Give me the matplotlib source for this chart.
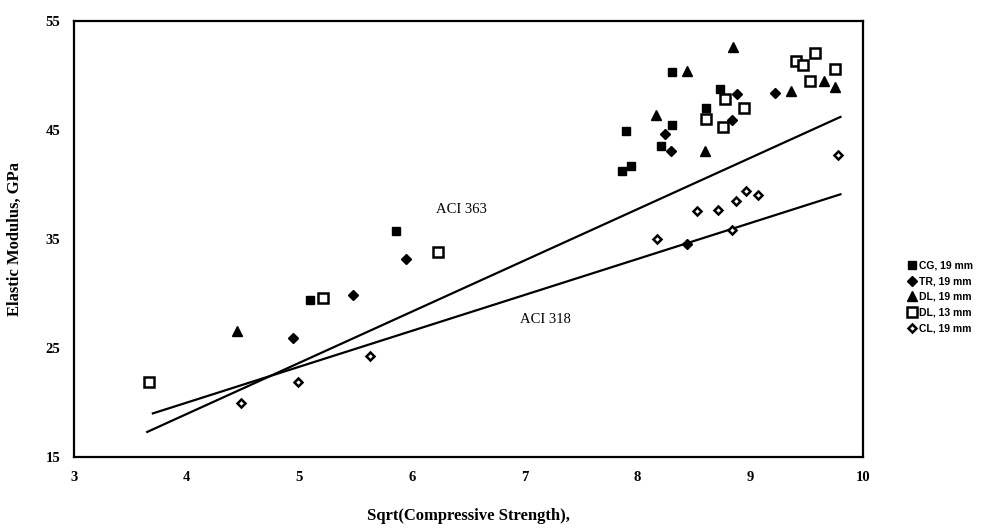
import matplotlib.pyplot as plt

# x = sqrt(f'c), y = elastic modulus (GPa)
cg_x = [5.09, 5.86, 7.86, 7.94, 7.90, 8.21, 8.31, 8.31, 8.61, 8.73]
cg_y = [29.4, 35.7, 41.2, 41.7, 44.9, 43.5, 45.5, 50.3, 47.0, 48.8]

tr_x = [4.94, 5.48, 5.95, 8.44, 8.24, 8.30, 8.84, 8.88, 9.22]
tr_y = [25.9, 29.9, 33.2, 34.5, 44.6, 43.1, 45.9, 48.3, 48.4]

dl19_x = [4.45, 8.16, 8.44, 8.60, 8.85, 9.36, 9.65, 9.75]
dl19_y = [26.6, 46.4, 50.4, 43.1, 52.6, 48.6, 49.5, 48.9]

dl13_x = [3.67, 5.21, 6.23, 8.61, 8.76, 8.78, 8.94, 9.41, 9.47, 9.53, 9.57, 9.75]
dl13_y = [21.9, 29.6, 33.8, 46.0, 45.3, 47.8, 47.0, 51.3, 51.0, 49.5, 52.1, 50.6]

cl_x = [4.48, 4.99, 5.63, 8.17, 8.53, 8.71, 8.84, 8.87, 8.96, 9.07, 9.78]
cl_y = [20.0, 21.9, 24.3, 35.0, 37.6, 37.7, 35.8, 38.5, 39.4, 39.0, 42.7]

# code lines, end points
steep_x = [3.65, 9.80]
steep_y = [17.3, 46.2]
flat_x = [3.70, 9.80]
flat_y = [19.0, 39.1]

plt.rcParams['font.family'] = ['Liberation Serif', 'DejaVu Serif']

fig = plt.figure(figsize=(9.9, 5.29), dpi=100)
ax = fig.add_axes([0.0747, 0.1361, 0.797, 0.8242])

ax.plot(steep_x, steep_y, color='black', lw=1.6)
ax.plot(flat_x, flat_y, color='black', lw=1.6)

ax.plot(cg_x, cg_y, 's', color='black', ms=6, label='CG, 19 mm')
ax.plot(tr_x, tr_y, 'D', color='black', ms=5, label='TR, 19 mm')
ax.plot(dl19_x, dl19_y, '^', color='black', ms=6.5, label='DL, 19 mm')
ax.plot(dl13_x, dl13_y, 's', mfc='white', mec='black', mew=1.8, ms=6.5, label='DL, 13 mm')
ax.plot(cl_x, cl_y, 'D', mfc='white', mec='black', mew=1.8, ms=4.5, label='CL, 19 mm')

ax.text(6.44, 37.7, 'ACI 363', fontsize=10.5, ha='center', va='center')
ax.text(7.18, 27.6, 'ACI 318', fontsize=10.5, ha='center', va='center')

ax.set_xlim(3, 10)
ax.set_ylim(15, 55)
ax.set_xticks([3, 4, 5, 6, 7, 8, 9, 10])
ax.set_yticks([15, 25, 35, 45, 55])
ax.tick_params(length=0, pad=10, labelsize=10.5)
for lab in ax.get_xticklabels() + ax.get_yticklabels():
    lab.set_fontweight('bold')
for s in ax.spines.values():
    s.set_linewidth(1.6)

ax.set_xlabel('Sqrt(Compressive Strength),', fontsize=12, fontweight='bold', labelpad=17)
ax.set_ylabel('Elastic Modulus, GPa', fontsize=12, fontweight='bold', labelpad=16)

ax.legend(loc='center left', bbox_to_anchor=(1.05, 0.367), frameon=False,
          handlelength=0.8, handletextpad=0.3, labelspacing=0.55, borderpad=0,
          prop={'family': 'Liberation Sans', 'weight': 'bold', 'size': 7.5})

fig.savefig('out.png', dpi=100)
